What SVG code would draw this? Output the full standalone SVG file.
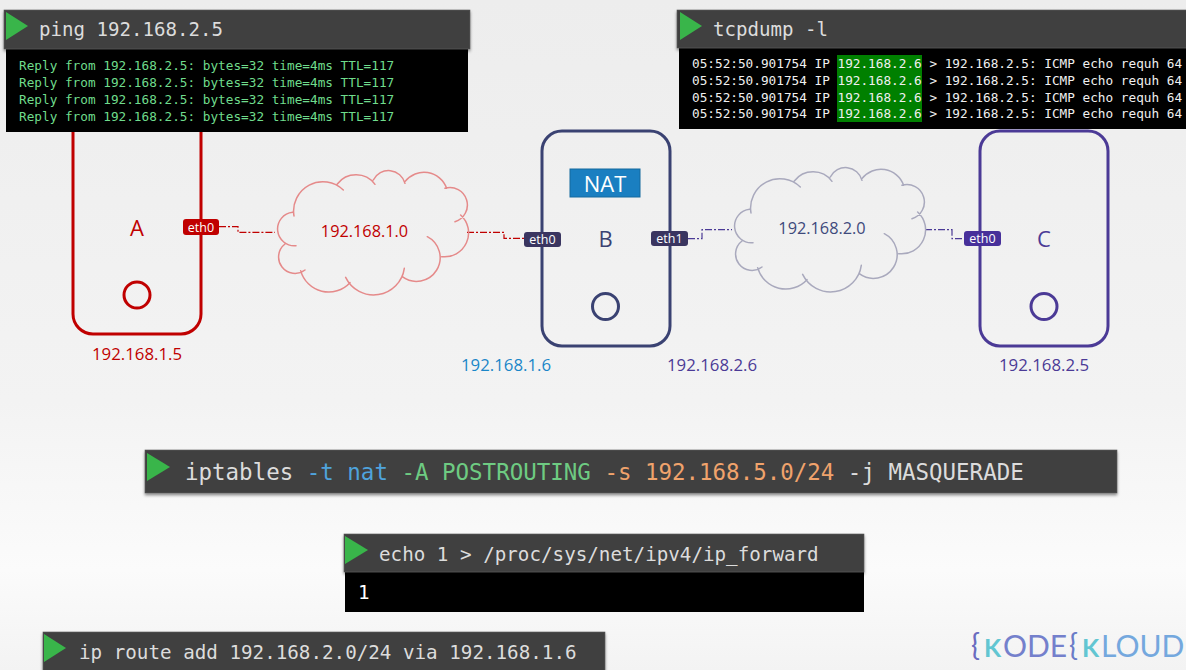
<svg xmlns="http://www.w3.org/2000/svg" width="1186" height="670" viewBox="0 0 1186 670">
<style>
text{font-family:"Open Sans","Liberation Sans",sans-serif}
.mono{font-family:"DejaVu Sans Mono","Liberation Mono",monospace}
.hdr{fill:#404040;stroke:#5a5a5a;stroke-width:.6;filter:url(#sh)}
.out{fill:#000}
.tri{fill:#39b54a}
.cmd{fill:#dcdcdc;font-size:19.1px}
.ping{fill:#6fdc8c;font-size:12.72px}
.dump{fill:#f0f0f0;font-size:12.72px}
.node{fill:none;stroke-width:3}
.ip{font-size:16.8px;text-anchor:middle}
.name{font-size:22px;text-anchor:middle}
.badge{fill:#fff;font-size:12.5px;text-anchor:middle}
.cloud{fill:none;stroke-width:4.5;stroke-linecap:round}
.link{fill:none;stroke-width:1.2;stroke-dasharray:7 2 2 2}
.lg{font-family:Lato,"Open Sans",sans-serif;font-size:30px}
.lk{font-family:Lato,"Open Sans",sans-serif;font-size:25px;font-weight:700;fill:#62c6d2}
</style>
<defs>
<linearGradient id="bg" x1="0" y1="0" x2="0" y2="1"><stop offset="0" stop-color="#ededed"/><stop offset=".6" stop-color="#f3f3f3"/><stop offset=".85" stop-color="#fbfbfb"/><stop offset="1" stop-color="#f3f3f3"/></linearGradient>
<filter id="sh" x="-5%" y="-20%" width="110%" height="150%"><feDropShadow dx="0" dy="2" stdDeviation="1.5" flood-color="#000" flood-opacity=".45"/></filter>
<path id="cloudShape" d="M378 257A50 50 0 1 1 368 157M372 168A88 88 0 0 1 520 90M502 72A71 71 0 0 1 615 73M610 60A51 51 0 0 1 705 70M705 65A72 72 0 0 1 830 85M825 85A52 52 0 0 1 855 185M872 165A72 72 0 0 1 815 290M772 230A71 71 0 1 1 697 350M703 325A93 93 0 0 1 527 352M540 368A87 87 0 0 1 392 332M405 330A49 49 0 0 1 345 252"/>
</defs>
<rect width="1186" height="670" fill="url(#bg)"/>

<g id="node-A">
<rect class="node" x="73" y="112" width="128" height="222" rx="20" stroke="#c00000"/>
<circle class="node" cx="137" cy="295" r="13" stroke="#c00000"/>
<text class="name" x="137" y="236" fill="#c00000">A</text>
<text class="ip" x="137" y="360" fill="#c00000">192.168.1.5</text>
</g>
<g id="node-B">
<rect class="node" x="542" y="131" width="128" height="215" rx="20" stroke="#3a4272"/>
<circle class="node" cx="605.500" cy="306.500" r="13" stroke="#3a4272"/>
<text class="name" x="605.500" y="247" fill="#3a4272">B</text>
<rect x="570" y="169" width="70" height="28" fill="#1a7fc1" stroke="#156a9e"/>
<text x="605" y="192" fill="#fff" font-size="22" text-anchor="middle">NAT</text>
<text class="ip" x="506" y="371" fill="#1a86c8">192.168.1.6</text>
<text class="ip" x="712" y="371" fill="#4b3a96">192.168.2.6</text>
</g>
<g id="node-C">
<rect class="node" x="980" y="131" width="128" height="215" rx="20" stroke="#4b3a96"/>
<circle class="node" cx="1044" cy="306.500" r="13" stroke="#4b3a96"/>
<text class="name" x="1044" y="247" fill="#4b3a96">C</text>
<text class="ip" x="1044" y="371" fill="#4b3a96">192.168.2.5</text>
</g>

<g id="connectors">
<path class="link" stroke="#c00000" d="M219 226.700H238V232.300H275"/>
<path class="link" stroke="#c00000" d="M467 232.300H504V238.300H524"/>
<path class="link" stroke="#4b3a96" d="M688 238.700H702V229.700H732"/>
<path class="link" stroke="#4b3a96" d="M925 229.700H952V238.700H964"/>
</g>

<g id="cloud-1">
<g class="cloud" transform="translate(170 160) scale(.3333)" stroke="#e58a8a"><use href="#cloudShape"/></g>
<text x="364.500" y="237" font-size="16.300" text-anchor="middle" fill="#c00000">192.168.1.0</text>
</g>
<g id="cloud-2">
<g class="cloud" transform="translate(627 157) scale(.3333)" stroke="#a9a9bd"><use href="#cloudShape"/></g>
<text x="822" y="234" font-size="16.300" text-anchor="middle" fill="#3f4a7c">192.168.2.0</text>
</g>

<g id="eth-A"><rect x="183" y="219" width="36" height="16" rx="3" fill="#c00000"/><text class="badge" x="201" y="232">eth0</text></g>
<g id="eth-B0"><rect x="524" y="232" width="37" height="15" rx="3" fill="#3a3560"/><text class="badge" x="542.500" y="244">eth0</text></g>
<g id="eth-B1"><rect x="651" y="231" width="37" height="15" rx="3" fill="#3a3560"/><text class="badge" x="669.500" y="243">eth1</text></g>
<g id="eth-C"><rect x="964" y="231" width="37" height="15" rx="3" fill="#47309a"/><text class="badge" x="982.500" y="243">eth0</text></g>

<g id="term-ping">
<rect class="out" x="6" y="49" width="462" height="83"/>
<rect class="hdr" x="4" y="10" width="466" height="39"/>
<path class="tri" d="M6 12L28 26L6 40Z"/>
<text class="mono cmd" x="39" y="36">ping 192.168.2.5</text>
<g class="mono ping">
<text class="mono" x="19" y="70">Reply from 192.168.2.5: bytes=32 time=4ms TTL=117</text>
<text class="mono" x="19" y="87">Reply from 192.168.2.5: bytes=32 time=4ms TTL=117</text>
<text class="mono" x="19" y="104">Reply from 192.168.2.5: bytes=32 time=4ms TTL=117</text>
<text class="mono" x="19" y="121">Reply from 192.168.2.5: bytes=32 time=4ms TTL=117</text>
</g>
</g>

<g id="term-tcpdump">
<rect class="out" x="679" y="48" width="507" height="81"/>
<rect class="hdr" x="677" y="10" width="520" height="38"/>
<path class="tri" d="M680 12L702 26L680 40Z"/>
<text class="mono cmd" x="713" y="36">tcpdump -l</text>
<rect x="837" y="55" width="85" height="67" fill="#008000"/>
<g class="mono dump">
<text class="mono" x="692" y="68">05:52:50.901754 IP 192.168.2.6 &gt; 192.168.2.5: ICMP echo requh 64</text>
<text class="mono" x="692" y="85">05:52:50.901754 IP 192.168.2.6 &gt; 192.168.2.5: ICMP echo requh 64</text>
<text class="mono" x="692" y="102">05:52:50.901754 IP 192.168.2.6 &gt; 192.168.2.5: ICMP echo requh 64</text>
<text class="mono" x="692" y="118">05:52:50.901754 IP 192.168.2.6 &gt; 192.168.2.5: ICMP echo requh 64</text>
</g>
</g>

<g id="term-iptables">
<rect class="hdr" x="145" y="450" width="972" height="43"/>
<path class="tri" d="M147 453L170 467L147 481Z"/>
<text class="mono" x="185" y="480" font-size="22.470" fill="#dcdcdc" xml:space="preserve">iptables <tspan fill="#4fa3dc">-t nat</tspan> <tspan fill="#6ecb82">-A POSTROUTING</tspan> <tspan fill="#f0a36c">-s 192.168.5.0/24</tspan> -j MASQUERADE</text>
</g>

<g id="term-echo">
<rect class="out" x="345" y="572" width="519" height="40"/>
<rect class="hdr" x="344" y="534" width="520" height="38"/>
<path class="tri" d="M345 536L368 550L345 564Z"/>
<text class="mono cmd" x="379" y="561" style="font-size:19.230px">echo 1 &gt; /proc/sys/net/ipv4/ip_forward</text>
<text class="mono" x="358" y="599" font-size="19.200" fill="#fff">1</text>
</g>

<g id="term-route">
<rect class="hdr" x="43" y="632" width="562" height="48"/>
<path class="tri" d="M44 634L66 648L44 662Z"/>
<text class="mono cmd" x="79" y="659" style="font-size:19.230px">ip route add 192.168.2.0/24 via 192.168.1.6</text>
</g>

<g id="logo-mark">
<text class="lg" x="971" y="656" fill="#6a6cc0">{</text>
<text class="lk" x="984" y="657">K</text>
<text class="lg" x="1003" y="657" fill="#7480cc">ODE</text>
<text class="lg" x="1069" y="656" fill="#6a7cc8">{</text>
<text class="lk" x="1082" y="657">K</text>
<text class="lg" x="1101" y="657" fill="#74a8de">LOUD</text>
</g>
</svg>
